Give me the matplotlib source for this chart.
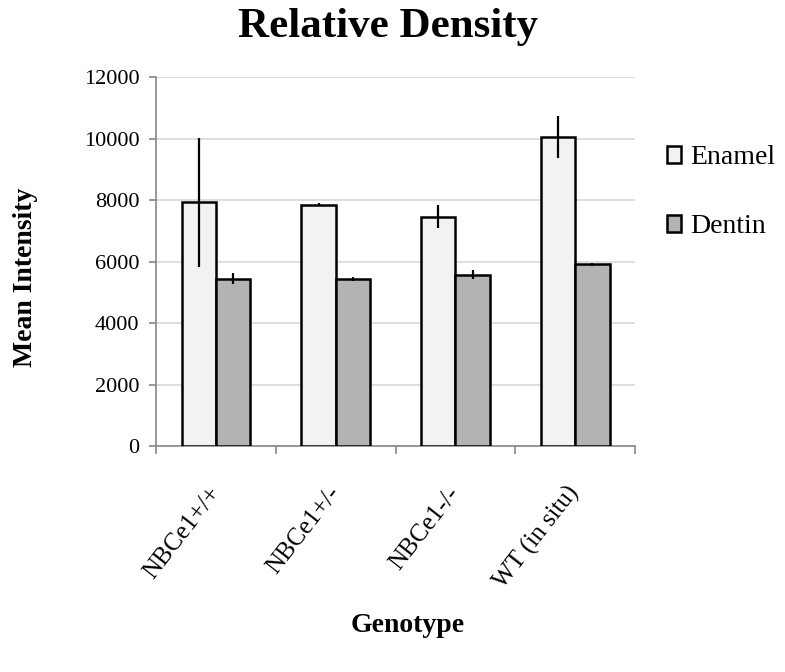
# Relative density bar chart: enamel vs dentin per genotype
import numpy as np
import matplotlib.pyplot as plt

genotypes = ['NBCe1+/+', 'NBCe1+/-', 'NBCe1-/-', 'WT (in situ)']
enamel = [7930, 7850, 7470, 10050]
enamel_err = [2100, 50, 360, 690]
dentin = [5450, 5430, 5580, 5920]
dentin_err = [190, 60, 150, 50]
y_ticks = [0, 2000, 4000, 6000, 8000, 10000, 12000]

plt.rcParams['font.family'] = ['Liberation Serif', 'DejaVu Serif']

fig = plt.figure(figsize=(7.85, 6.72), dpi=100)
ax = fig.add_axes([0.199, 0.336, 0.61, 0.549])

x = np.arange(len(genotypes))
w = 0.2875
err_kw = dict(ecolor='black', elinewidth=1.6, capsize=0)
ax.bar(x - w / 2, enamel, w, yerr=enamel_err, color='#f2f2f2', edgecolor='black',
       linewidth=1.8, label='Enamel', error_kw=err_kw, zorder=3)
ax.bar(x + w / 2, dentin, w, yerr=dentin_err, color='#b3b3b3', edgecolor='black',
       linewidth=1.8, label='Dentin', error_kw=err_kw, zorder=3)

ax.set_xlim(-0.5, len(genotypes) - 0.5)
ax.set_ylim(0, 12000)
ax.set_yticks(y_ticks)
ax.set_yticklabels([str(v) for v in y_ticks], fontsize=16)
ax.yaxis.grid(True, color='#d9d9d9', linewidth=1.2, zorder=0)
ax.set_axisbelow(True)

# category labels at centres, tick marks at boundaries
ax.set_xticks(x)
ax.set_xticklabels(genotypes, rotation=52, ha='right', va='center',
                   rotation_mode='anchor', fontsize=18)
ax.tick_params(axis='x', which='major', length=0, pad=31)
ax.set_xticks(np.arange(-0.5, len(genotypes)), minor=True)
ax.tick_params(axis='x', which='minor', length=6, width=1.2, color='#888888', direction='out')
ax.tick_params(axis='y', length=5, width=1.2, color='#888888', direction='out', pad=7)

for s in ['top', 'right']:
    ax.spines[s].set_visible(False)
for s in ['left', 'bottom']:
    ax.spines[s].set_color('#888888')
    ax.spines[s].set_linewidth(1.2)

fig.text(0.494, 0.945, 'Relative Density', fontsize=31, fontweight='bold',
         ha='center', va='baseline')
fig.text(0.033, 0.588, 'Mean Intensity', fontsize=20, fontweight='bold',
         rotation=90, ha='center', va='center')
fig.text(0.519, 0.06, 'Genotype', fontsize=20, fontweight='bold',
         ha='center', va='baseline')

fig.legend(*ax.get_legend_handles_labels(), loc='upper left',
           bbox_to_anchor=(667 / 785, 1 - 145 / 672), bbox_transform=fig.transFigure,
           frameon=False, fontsize=20, borderpad=0, borderaxespad=0,
           handlelength=0.5, handleheight=0.55, handletextpad=0.35, labelspacing=1.6)

fig.savefig('out.png', dpi=100)
